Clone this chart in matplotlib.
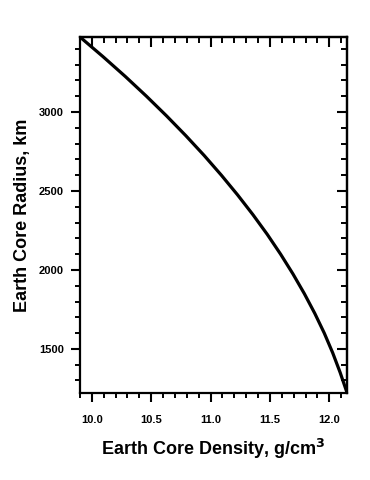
import numpy as np
import matplotlib
matplotlib.use('Agg')
import matplotlib.pyplot as plt
from matplotlib.ticker import MultipleLocator, FormatStrFormatter

plt.rcParams['font.family'] = ['Liberation Sans', 'DejaVu Sans']

# values
radius = [3475, 3350, 3225, 3100, 2975, 2850, 2725, 2600, 2475, 2350,
          2225, 2100, 1975, 1850, 1725, 1600, 1475, 1350, 1222]
density = [9.900, 10.095, 10.282, 10.460, 10.630, 10.792, 10.946, 11.091, 11.228, 11.357,
           11.478, 11.590, 11.694, 11.790, 11.878, 11.958, 12.029, 12.092, 12.150]

fig = plt.figure(figsize=(3.7, 4.8), dpi=100)
ax = fig.add_axes([0.216, 0.181, 0.722, 0.742])

ax.plot(density, radius, color='black', lw=2.3, solid_capstyle='butt',
        solid_joinstyle='round')

ax.set_xlim(9.9, 12.15)
ax.set_ylim(1220, 3475)

ax.xaxis.set_major_locator(MultipleLocator(0.5))
ax.xaxis.set_minor_locator(MultipleLocator(0.1))
ax.yaxis.set_major_locator(MultipleLocator(500))
ax.yaxis.set_minor_locator(MultipleLocator(100))
ax.xaxis.set_major_formatter(FormatStrFormatter('%.1f'))

for s in ax.spines.values():
    s.set_linewidth(1.6)

ax.tick_params(which='major', direction='out', length=6.5, width=1.5, labelsize=8)
ax.tick_params(axis='x', which='major', pad=9)
ax.tick_params(axis='y', which='major', pad=5)
ax.tick_params(which='minor', direction='out', length=3.6, width=1.4)
for lab in ax.get_xticklabels() + ax.get_yticklabels():
    lab.set_fontweight('bold')

# top and right ticks point inward
top = ax.secondary_xaxis('top')
top.xaxis.set_major_locator(MultipleLocator(0.5))
top.xaxis.set_minor_locator(MultipleLocator(0.1))
top.tick_params(which='major', direction='in', length=7.5, width=1.5, labeltop=False)
top.tick_params(which='minor', direction='in', length=4.5, width=1.4)
top.spines['top'].set_linewidth(1.6)

right = ax.secondary_yaxis('right')
right.yaxis.set_major_locator(MultipleLocator(500))
right.yaxis.set_minor_locator(MultipleLocator(100))
right.tick_params(which='major', direction='in', length=7.5, width=1.5, labelright=False)
right.tick_params(which='minor', direction='in', length=4.5, width=1.4)
right.spines['right'].set_linewidth(1.6)

ax.set_xlabel('Earth Core Density, g/cm$^\\mathbf{3}$', fontsize=13, fontweight='bold', labelpad=9)
ax.set_ylabel('Earth Core Radius, km', fontsize=13, fontweight='bold', labelpad=6)

fig.savefig('out.png', dpi=100)
